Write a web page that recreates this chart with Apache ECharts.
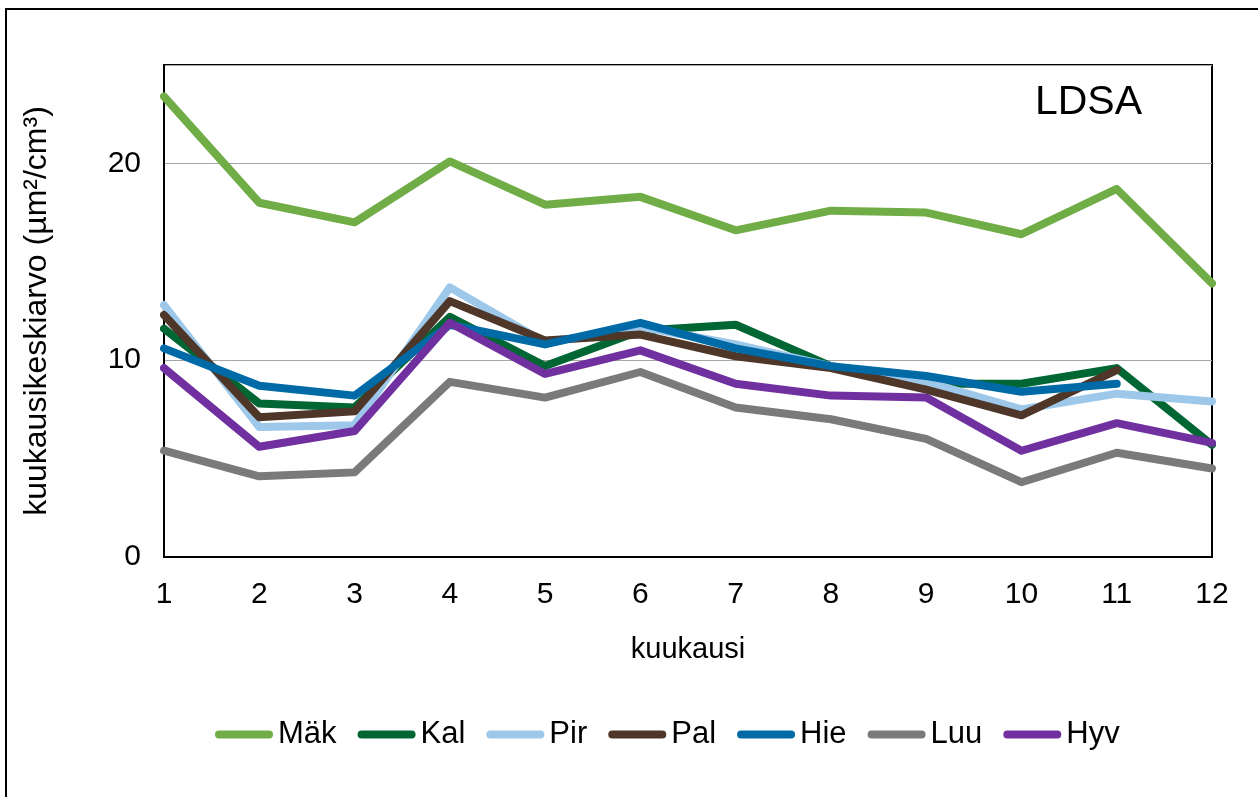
<!DOCTYPE html>
<html>
<head>
<meta charset="utf-8">
<script src="https://cdn.jsdelivr.net/npm/echarts@6/dist/echarts.min.js"></script>
<style>
  html, body { margin: 0; padding: 0; background: #fff; }
  #chart { width: 1258px; height: 797px; }
  #frame {
    position: absolute; left: 5px; top: 8px; width: 1300px; height: 900px;
    border-left: 2px solid #000; border-top: 2px solid #000; pointer-events: none;
  }
</style>
</head>
<body>
<div id="chart"></div>
<div id="frame"></div>
<script>
const months = ["1", "2", "3", "4", "5", "6", "7", "8", "9", "10", "11", "12"];
const yTicks = [0, 10, 20];

const mak = [23.4, 18.0, 17.0, 20.1, 17.9, 18.3, 16.6, 17.6, 17.5, 16.4, 18.7, 13.9];
const kal = [11.6, 7.8, 7.6, 12.2, 9.7, 11.5, 11.8, 9.7, 8.8, 8.8, 9.6, 5.7];
const pir = [12.8, 6.6, 6.7, 13.7, 10.9, 11.7, 10.8, 9.7, 8.9, 7.5, 8.3, 7.9];
const pal = [12.3, 7.1, 7.4, 13.0, 11.0, 11.3, 10.2, 9.6, 8.5, 7.2, 9.5, null];
const hie = [10.6, 8.7, 8.2, 11.8, 10.8, 11.9, 10.6, 9.7, 9.2, 8.4, 8.8, null];
const luu = [5.4, 4.1, 4.3, 8.9, 8.1, 9.4, 7.6, 7.0, 6.0, 3.8, 5.3, 4.5];
const hyv = [9.6, 5.6, 6.4, 11.9, 9.3, 10.5, 8.8, 8.2, 8.1, 5.4, 6.8, 5.8];

const font = "Liberation Sans, Arial, sans-serif";

function line(name, color, data) {
  return {
    name: name,
    type: "line",
    data: data,
    symbol: "none",
    connectNulls: false,
    color: color,
    lineStyle: { width: 8, color: color, cap: "round", join: "round" }
  };
}

const myChart = echarts.init(document.getElementById("chart"));

const option = {
  animation: false,
  textStyle: { fontFamily: font, color: "#000" },
  grid: {
    left: 164, right: 46, top: 65, bottom: 240,
    show: true, borderColor: "#000", borderWidth: 2
  },
  graphic: [{
    type: "text",
    right: 1258 - 1142,
    top: 82,
    style: { text: "LDSA", font: "41px " + font, fill: "#000" }
  }],
  legend: {
    left: 210,
    top: 714,
    icon: "path://M4,0 H54 A4,4 0 0 1 54,8 H4 A4,4 0 0 1 4,0 Z",
    itemWidth: 58,
    itemHeight: 8,
    itemGap: 21,
    textStyle: { fontSize: 31, color: "#000", fontFamily: font },
    data: ["Mäk", "Kal", "Pir", "Pal", "Hie", "Luu", "Hyv"]
  },
  xAxis: {
    type: "category",
    data: months,
    boundaryGap: false,
    name: "kuukausi",
    nameLocation: "middle",
    nameGap: 78,
    nameTextStyle: { fontSize: 29, color: "#000" },
    axisLine: { lineStyle: { color: "#000", width: 2 } },
    axisTick: { show: false },
    axisLabel: { fontSize: 30, color: "#000", margin: 23 }
  },
  yAxis: {
    type: "value",
    min: 0,
    max: 25,
    interval: 10,
    name: "kuukausikeskiarvo (µm²/cm³)",
    nameLocation: "middle",
    nameGap: 111,
    nameTextStyle: { fontSize: 32, color: "#000" },
    axisLine: { show: true, lineStyle: { color: "#000", width: 2 } },
    axisTick: { show: false },
    axisLabel: {
      fontSize: 30, color: "#000", margin: 23,
      showMaxLabel: false,
      formatter: v => (yTicks.indexOf(v) >= 0 ? String(v) : "")
    },
    splitLine: { show: true, lineStyle: { color: "#a6a6a6", width: 1 } }
  },
  series: [
    line("Mäk", "#70ad47", mak),
    line("Kal", "#006633", kal),
    line("Pir", "#9dc8ea", pir),
    line("Pal", "#4e3629", pal),
    line("Hie", "#006aa7", hie),
    line("Luu", "#7a7a7a", luu),
    line("Hyv", "#7030a0", hyv)
  ]
};

myChart.setOption(option);
</script>
</body>
</html>
